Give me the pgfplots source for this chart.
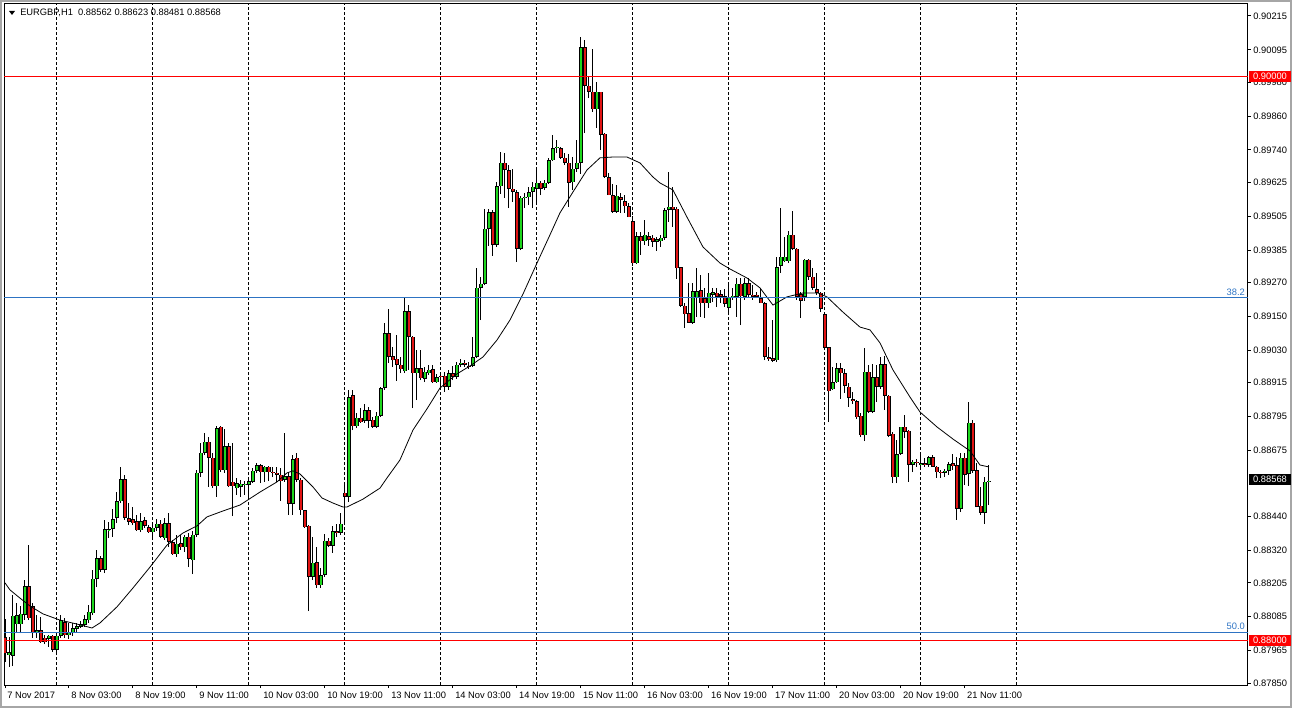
\documentclass[border=0pt]{standalone}
\usepackage{fontspec}
\setmainfont{Liberation Sans}
\usepackage{pgfplots}
\usepackage{pgfplotstable}
\pgfplotsset{compat=1.18}

\definecolor{bull}{RGB}{30,215,30}
\definecolor{bear}{RGB}{225,20,20}
\definecolor{fibo}{RGB}{45,115,195}

% EURGBP H1 bars, i = bar number from 7 Nov 11:00
\pgfplotstableread{
i o h l c
0 0.88013 0.88077 0.87925 0.87956
1 0.87949 0.88013 0.87907 0.87960
2 0.87946 0.88162 0.87910 0.88088
3 0.88059 0.88134 0.88027 0.88091
4 0.88059 0.88123 0.88027 0.88095
5 0.88091 0.88215 0.88073 0.88194
6 0.88194 0.88339 0.88073 0.88080
7 0.88123 0.88134 0.88010 0.88027
8 0.88027 0.88091 0.88010 0.88038
9 0.88038 0.88084 0.87992 0.87995
10 0.88010 0.88020 0.87988 0.87995
11 0.88006 0.88020 0.87978 0.88017
12 0.88017 0.88020 0.87960 0.87967
13 0.87967 0.88020 0.87949 0.88017
14 0.88017 0.88091 0.88010 0.88073
15 0.88066 0.88080 0.88010 0.88020
16 0.88020 0.88063 0.88006 0.88031
17 0.88027 0.88063 0.88017 0.88045
18 0.88042 0.88063 0.88031 0.88052
19 0.88049 0.88070 0.88045 0.88059
20 0.88056 0.88091 0.88049 0.88077
21 0.88073 0.88127 0.88063 0.88102
22 0.88098 0.88251 0.88091 0.88219
23 0.88219 0.88322 0.88190 0.88293
24 0.88293 0.88300 0.88244 0.88251
25 0.88251 0.88428 0.88240 0.88396
26 0.88392 0.88421 0.88364 0.88396
27 0.88396 0.88467 0.88368 0.88431
28 0.88435 0.88527 0.88417 0.88495
29 0.88495 0.88616 0.88488 0.88573
30 0.88573 0.88588 0.88428 0.88435
31 0.88435 0.88488 0.88410 0.88421
32 0.88431 0.88474 0.88410 0.88417
33 0.88424 0.88446 0.88389 0.88392
34 0.88392 0.88453 0.88385 0.88424
35 0.88428 0.88439 0.88400 0.88407
36 0.88403 0.88410 0.88382 0.88385
37 0.88385 0.88417 0.88357 0.88400
38 0.88400 0.88431 0.88389 0.88414
39 0.88414 0.88428 0.88364 0.88368
40 0.88364 0.88435 0.88357 0.88417
41 0.88417 0.88453 0.88332 0.88350
42 0.88350 0.88357 0.88304 0.88307
43 0.88307 0.88375 0.88297 0.88343
44 0.88346 0.88375 0.88322 0.88332
45 0.88332 0.88375 0.88314 0.88368
46 0.88368 0.88382 0.88261 0.88290
47 0.88286 0.88389 0.88236 0.88375
48 0.88375 0.88605 0.88368 0.88595
49 0.88595 0.88701 0.88580 0.88666
50 0.88666 0.88736 0.88658 0.88705
51 0.88705 0.88722 0.88545 0.88648
52 0.88648 0.88666 0.88541 0.88548
53 0.88548 0.88761 0.88510 0.88754
54 0.88758 0.88761 0.88598 0.88605
55 0.88605 0.88751 0.88595 0.88690
56 0.88690 0.88701 0.88545 0.88548
57 0.88563 0.88701 0.88442 0.88548
58 0.88541 0.88577 0.88517 0.88559
59 0.88545 0.88570 0.88510 0.88556
60 0.88552 0.88566 0.88517 0.88556
61 0.88552 0.88577 0.88510 0.88566
62 0.88563 0.88612 0.88559 0.88602
63 0.88602 0.88630 0.88595 0.88623
64 0.88623 0.88626 0.88559 0.88598
65 0.88598 0.88619 0.88563 0.88616
66 0.88616 0.88619 0.88566 0.88598
67 0.88598 0.88616 0.88580 0.88595
68 0.88595 0.88616 0.88563 0.88588
69 0.88588 0.88612 0.88495 0.88566
70 0.88570 0.88736 0.88563 0.88584
71 0.88584 0.88598 0.88446 0.88485
72 0.88485 0.88658 0.88446 0.88644
73 0.88648 0.88666 0.88563 0.88570
74 0.88570 0.88577 0.88446 0.88463
75 0.88463 0.88463 0.88400 0.88403
76 0.88407 0.88410 0.88105 0.88226
77 0.88226 0.88368 0.88215 0.88276
78 0.88279 0.88332 0.88187 0.88197
79 0.88197 0.88258 0.88187 0.88233
80 0.88233 0.88378 0.88226 0.88354
81 0.88354 0.88364 0.88332 0.88336
82 0.88336 0.88407 0.88311 0.88389
83 0.88389 0.88414 0.88368 0.88382
84 0.88382 0.88453 0.88375 0.88414
85 0.88524 0.88552 0.88421 0.88510
86 0.88510 0.88889 0.88492 0.88864
87 0.88871 0.88889 0.88747 0.88761
88 0.88761 0.88807 0.88754 0.88790
89 0.88790 0.88825 0.88772 0.88775
90 0.88779 0.88839 0.88772 0.88818
91 0.88818 0.88829 0.88754 0.88779
92 0.88783 0.88793 0.88754 0.88758
93 0.88758 0.88811 0.88754 0.88797
94 0.88797 0.88900 0.88793 0.88896
95 0.88896 0.89127 0.88889 0.89091
96 0.89091 0.89176 0.88985 0.89006
97 0.89009 0.89041 0.88970 0.88995
98 0.88999 0.89084 0.88921 0.88978
99 0.88978 0.89006 0.88949 0.88963
100 0.88956 0.89219 0.88949 0.89169
101 0.89169 0.89190 0.88960 0.89077
102 0.89077 0.89080 0.88825 0.88949
103 0.88949 0.89031 0.88853 0.88967
104 0.88967 0.89031 0.88924 0.88931
105 0.88928 0.88970 0.88917 0.88953
106 0.88949 0.88978 0.88942 0.88960
107 0.88963 0.88978 0.88914 0.88917
108 0.88917 0.88946 0.88914 0.88935
109 0.88939 0.88953 0.88889 0.88936
110 0.88939 0.88953 0.88882 0.88900
111 0.88900 0.88960 0.88889 0.88949
112 0.88949 0.88974 0.88924 0.88935
113 0.88935 0.88988 0.88928 0.88978
114 0.88978 0.88999 0.88970 0.88985
115 0.88985 0.88995 0.88970 0.88978
116 0.88974 0.88988 0.88963 0.88971
117 0.88974 0.89077 0.88970 0.89006
118 0.89006 0.89321 0.89002 0.89251
119 0.89251 0.89290 0.89137 0.89265
120 0.89265 0.89531 0.89261 0.89460
121 0.89460 0.89531 0.89400 0.89520
122 0.89520 0.89527 0.89364 0.89403
123 0.89403 0.89626 0.89396 0.89612
124 0.89612 0.89733 0.89584 0.89694
125 0.89694 0.89729 0.89570 0.89669
126 0.89669 0.89687 0.89534 0.89602
127 0.89602 0.89673 0.89556 0.89591
128 0.89591 0.89598 0.89343 0.89389
129 0.89389 0.89577 0.89385 0.89570
130 0.89570 0.89587 0.89534 0.89573
131 0.89573 0.89609 0.89545 0.89591
132 0.89591 0.89626 0.89534 0.89609
133 0.89602 0.89669 0.89545 0.89623
134 0.89623 0.89630 0.89580 0.89602
135 0.89605 0.89635 0.89598 0.89623
136 0.89623 0.89712 0.89619 0.89704
137 0.89704 0.89793 0.89701 0.89747
138 0.89747 0.89775 0.89729 0.89751
139 0.89747 0.89751 0.89708 0.89712
140 0.89712 0.89729 0.89687 0.89694
141 0.89694 0.89726 0.89538 0.89623
142 0.89626 0.89715 0.89598 0.89673
143 0.89673 0.89775 0.89662 0.89694
144 0.89694 0.90141 0.89655 0.90105
145 0.90105 0.90130 0.89800 0.89967
146 0.89967 0.89999 0.89924 0.89946
147 0.89946 0.90098 0.89875 0.89885
148 0.89885 0.89981 0.89818 0.89946
149 0.89946 0.89946 0.89740 0.89793
150 0.89797 0.89800 0.89641 0.89644
151 0.89644 0.89658 0.89580 0.89580
152 0.89580 0.89619 0.89517 0.89520
153 0.89520 0.89616 0.89517 0.89577
154 0.89573 0.89587 0.89517 0.89563
155 0.89559 0.89580 0.89517 0.89541
156 0.89541 0.89552 0.89502 0.89502
157 0.89488 0.89506 0.89329 0.89339
158 0.89339 0.89449 0.89336 0.89435
159 0.89435 0.89449 0.89368 0.89417
160 0.89417 0.89492 0.89403 0.89439
161 0.89435 0.89449 0.89400 0.89421
162 0.89428 0.89439 0.89396 0.89414
163 0.89414 0.89431 0.89382 0.89424
164 0.89417 0.89439 0.89396 0.89428
165 0.89428 0.89534 0.89421 0.89527
166 0.89527 0.89662 0.89485 0.89538
167 0.89538 0.89609 0.89467 0.89527
168 0.89531 0.89538 0.89283 0.89321
169 0.89325 0.89325 0.89183 0.89187
170 0.89187 0.89197 0.89109 0.89158
171 0.89162 0.89268 0.89127 0.89127
172 0.89127 0.89268 0.89123 0.89240
173 0.89215 0.89321 0.89148 0.89240
174 0.89243 0.89297 0.89148 0.89197
175 0.89215 0.89251 0.89144 0.89197
176 0.89197 0.89304 0.89180 0.89233
177 0.89226 0.89251 0.89201 0.89236
178 0.89233 0.89251 0.89183 0.89219
179 0.89229 0.89243 0.89197 0.89219
180 0.89222 0.89247 0.89183 0.89194
181 0.89180 0.89261 0.89165 0.89219
182 0.89219 0.89251 0.89208 0.89222
183 0.89219 0.89286 0.89148 0.89265
184 0.89265 0.89286 0.89119 0.89222
185 0.89219 0.89286 0.89208 0.89268
186 0.89268 0.89286 0.89219 0.89226
187 0.89226 0.89261 0.89208 0.89219
188 0.89226 0.89236 0.89215 0.89219
189 0.89215 0.89251 0.89197 0.89197
190 0.89197 0.89201 0.88995 0.89006
191 0.89006 0.89041 0.88992 0.88999
192 0.89002 0.89137 0.88988 0.88992
193 0.88995 0.89361 0.88988 0.89325
194 0.89329 0.89534 0.89304 0.89361
195 0.89346 0.89431 0.89343 0.89361
196 0.89346 0.89453 0.89339 0.89439
197 0.89439 0.89524 0.89385 0.89389
198 0.89389 0.89392 0.89208 0.89219
199 0.89229 0.89236 0.89144 0.89205
200 0.89219 0.89353 0.89205 0.89350
201 0.89350 0.89353 0.89279 0.89290
202 0.89290 0.89321 0.89243 0.89251
203 0.89247 0.89304 0.89226 0.89233
204 0.89233 0.89236 0.89165 0.89176
205 0.89158 0.89162 0.89031 0.89038
206 0.89041 0.89041 0.88775 0.88885
207 0.88892 0.88970 0.88889 0.88917
208 0.88917 0.88985 0.88914 0.88967
209 0.88967 0.88985 0.88857 0.88949
210 0.88949 0.88963 0.88878 0.88903
211 0.88900 0.88914 0.88829 0.88861
212 0.88857 0.88882 0.88839 0.88850
213 0.88850 0.88853 0.88786 0.88793
214 0.88797 0.88807 0.88722 0.88729
215 0.88729 0.89038 0.88708 0.88953
216 0.88953 0.88978 0.88807 0.88811
217 0.88811 0.88981 0.88807 0.88935
218 0.88935 0.88978 0.88846 0.88900
219 0.88900 0.89006 0.88892 0.88981
220 0.88981 0.89009 0.88818 0.88868
221 0.88868 0.88871 0.88722 0.88726
222 0.88733 0.88740 0.88559 0.88580
223 0.88580 0.88712 0.88559 0.88662
224 0.88662 0.88758 0.88658 0.88758
225 0.88758 0.88800 0.88719 0.88740
226 0.88744 0.88747 0.88563 0.88623
227 0.88623 0.88641 0.88598 0.88634
228 0.88634 0.88644 0.88616 0.88631
229 0.88623 0.88669 0.88616 0.88630
230 0.88630 0.88648 0.88616 0.88623
231 0.88623 0.88655 0.88616 0.88651
232 0.88651 0.88658 0.88616 0.88616
233 0.88616 0.88619 0.88577 0.88598
234 0.88598 0.88605 0.88577 0.88595
235 0.88595 0.88609 0.88580 0.88602
236 0.88602 0.88634 0.88588 0.88626
237 0.88630 0.88662 0.88605 0.88619
238 0.88623 0.88651 0.88428 0.88467
239 0.88467 0.88666 0.88456 0.88648
240 0.88648 0.88666 0.88552 0.88588
241 0.88591 0.88846 0.88548 0.88772
242 0.88772 0.88783 0.88595 0.88602
243 0.88605 0.88630 0.88474 0.88474
244 0.88478 0.88545 0.88446 0.88453
245 0.88453 0.88580 0.88414 0.88563
246 0.88562 0.88623 0.88481 0.88568
}\bars

\begin{document}
\begin{tikzpicture}
\path[use as bounding box] (0,0) rectangle (969pt,531pt);
\draw[black!35, line width=1.5pt] (0.75pt,0.75pt) rectangle (968.25pt,530.25pt);

\begin{axis}[
  at={(3pt,17.25pt)}, anchor=south west,
  scale only axis, width=932.8pt, height=510.75pt,
  xmin=-0.25, xmax=310.7,
  ymin=0.878429, ymax=0.902575,
  axis line style={black, line width=0.75pt},
  tick align=outside, major tick length=2.25pt,
  tick style={black, line width=0.75pt},
  xtick pos=left, ytick pos=right,
  scaled y ticks=false,
  tick label style={font=\fontsize{7}{8}\selectfont, inner sep=0pt},
  xtick={0,16,...,240},
  xticklabels={7 Nov 2017,8 Nov 03:00,8 Nov 19:00,9 Nov 11:00,10 Nov 03:00,10 Nov 19:00,13 Nov 11:00,14 Nov 03:00,14 Nov 19:00,15 Nov 11:00,16 Nov 03:00,16 Nov 19:00,17 Nov 11:00,20 Nov 03:00,20 Nov 19:00,21 Nov 11:00},
  xticklabel style={anchor=north west, xshift=1.5pt, yshift=-3pt},
  ytick={0.90215,0.90095,0.89980,0.89860,0.89740,0.89625,0.89505,0.89385,0.89270,0.89150,0.89030,0.88915,0.88795,0.88675,0.88440,0.88320,0.88205,0.88085,0.87965,0.87850},
  yticklabels={0.90215,0.90095,0.89980,0.89860,0.89740,0.89625,0.89505,0.89385,0.89270,0.89150,0.89030,0.88915,0.88795,0.88675,0.88440,0.88320,0.88205,0.88085,0.87965,0.87850},
  yticklabel style={anchor=west, xshift=1.75pt},
  extra x ticks={13,37,...,253},
  extra x tick labels={},
  extra x tick style={grid=major, major tick length=0pt,
    grid style={black, line width=0.75pt, dash pattern=on 2.25pt off 1.5pt}},
]

% wicks
\addplot[draw=none, mark=none, error bars/.cd, y dir=plus, y explicit, error mark=none,
  error bar style={draw=black, line width=0.75pt}]
  table[x=i, y=l, y error plus expr={\thisrow{h}-\thisrow{l}}] {\bars};
% bodies: outline
\addplot[draw=none, mark=none, error bars/.cd, y dir=plus, y explicit, error mark=none,
  error bar style={draw=black, line width=2.4pt}]
  table[x=i, y expr={min(\thisrow{o},\thisrow{c})}, y error plus expr={abs(\thisrow{c}-\thisrow{o})}] {\bars};
% bodies: fill up
\addplot[draw=none, mark=none, restrict expr to domain={\thisrow{c}-\thisrow{o}}{0:1},
  error bars/.cd, y dir=plus, y explicit, error mark=none,
  error bar style={draw=bull, line width=1.0pt, shorten <=0.4pt, shorten >=0.4pt}]
  table[x=i, y=o, y error plus expr={\thisrow{c}-\thisrow{o}}] {\bars};
% bodies: fill down
\addplot[draw=none, mark=none, restrict expr to domain={\thisrow{c}-\thisrow{o}}{-1:0},
  error bars/.cd, y dir=plus, y explicit, error mark=none,
  error bar style={draw=bear, line width=1.0pt, shorten <=0.4pt, shorten >=0.4pt}]
  table[x=i, y=c, y error plus expr={\thisrow{o}-\thisrow{c}}] {\bars};

% moving average
\addplot[black, line width=0.6pt] coordinates {
(0,0.88205) (1.25,0.88180) (3.75,0.88151) (6.25,0.88123) (9.5,0.88095) (13.75,0.88073)
(18,0.88059) (21.75,0.88045) (23.75,0.88063) (28,0.88120) (32,0.88187) (36.25,0.88261)
(40.5,0.88339) (44.5,0.88382) (48,0.88407) (50.5,0.88439) (54.5,0.88460) (58.75,0.88481)
(63.75,0.88527) (68,0.88563) (70.5,0.88595) (72,0.88602) (73.75,0.88591) (77,0.88545)
(79.25,0.88506) (82,0.88488) (84.5,0.88474) (85.5,0.88474) (89.5,0.88502) (93.75,0.88541)
(95.5,0.88577) (98.75,0.88641) (102,0.88747) (105.5,0.88822) (108.75,0.88896) (113,0.88946)
(116.25,0.88974) (119.5,0.89006) (123,0.89066) (126.25,0.89137) (129.5,0.89229) (133,0.89339)
(136.25,0.89439) (138.75,0.89517) (142,0.89591) (145.5,0.89669) (148.75,0.89712) (152,0.89715)
(155.5,0.89715) (158.75,0.89694) (162,0.89644) (163.75,0.89623) (167,0.89598) (170.5,0.89502)
(174.5,0.89396) (178.75,0.89339) (181.25,0.89318) (185.5,0.89286) (188.75,0.89251) (192,0.89190)
(195.5,0.89219) (199.5,0.89233) (203.25,0.89233) (205.5,0.89219) (209.5,0.89165) (213.75,0.89112)
(216.25,0.89102) (218.75,0.89056) (222,0.88960) (226.25,0.88864) (228.75,0.88811) (233,0.88758)
(237,0.88715) (241.25,0.88673) (243.75,0.88623) (246,0.88616)
};

% levels
\addplot[red, line width=0.75pt] coordinates {(-0.25,0.90000) (310.7,0.90000)};
\addplot[red, line width=0.75pt] coordinates {(-0.25,0.88000) (310.7,0.88000)};
\addplot[fibo, line width=0.8pt] coordinates {(-0.25,0.89216) (310.7,0.89216)};
\addplot[fibo, line width=0.8pt] coordinates {(-0.25,0.88030) (310.7,0.88030)};

\coordinate (b90) at (axis cs:310.7,0.90000);
\coordinate (b88) at (axis cs:310.7,0.88000);
\coordinate (bcur) at (axis cs:310.7,0.88572);
\coordinate (f382) at (axis cs:310.7,0.89216);
\coordinate (f50) at (axis cs:310.7,0.88030);
\end{axis}

\tikzset{box/.style={anchor=west, inner sep=0pt, minimum width=31.5pt, minimum height=8.5pt,
  text=white, font=\fontsize{7}{8}\selectfont}}
\node[box, fill=red] at ([xshift=0.75pt]b90) {0.90000};
\node[box, fill=red] at ([xshift=0.75pt]b88) {0.88000};
\node[box, fill=black] at ([xshift=0.75pt]bcur) {0.88568};
\node[anchor=south east, inner sep=0pt, text=fibo, font=\fontsize{7}{8}\selectfont]
  at ([xshift=-2pt, yshift=1.5pt]f382) {38.2};
\node[anchor=south east, inner sep=0pt, text=fibo, font=\fontsize{7}{8}\selectfont]
  at ([xshift=-2pt, yshift=1.5pt]f50) {50.0};

% symbol caption at top left
\fill[black] (6.75pt,522.75pt) -- (11.25pt,522.75pt) -- (9pt,519.75pt) -- cycle;
\node[anchor=west, inner sep=0pt, font=\fontsize{7}{8}\selectfont] at (15pt,521.25pt)
  {EURGBP,H1\ \ 0.88562 0.88623 0.88481 0.88568};
\end{tikzpicture}
\end{document}
